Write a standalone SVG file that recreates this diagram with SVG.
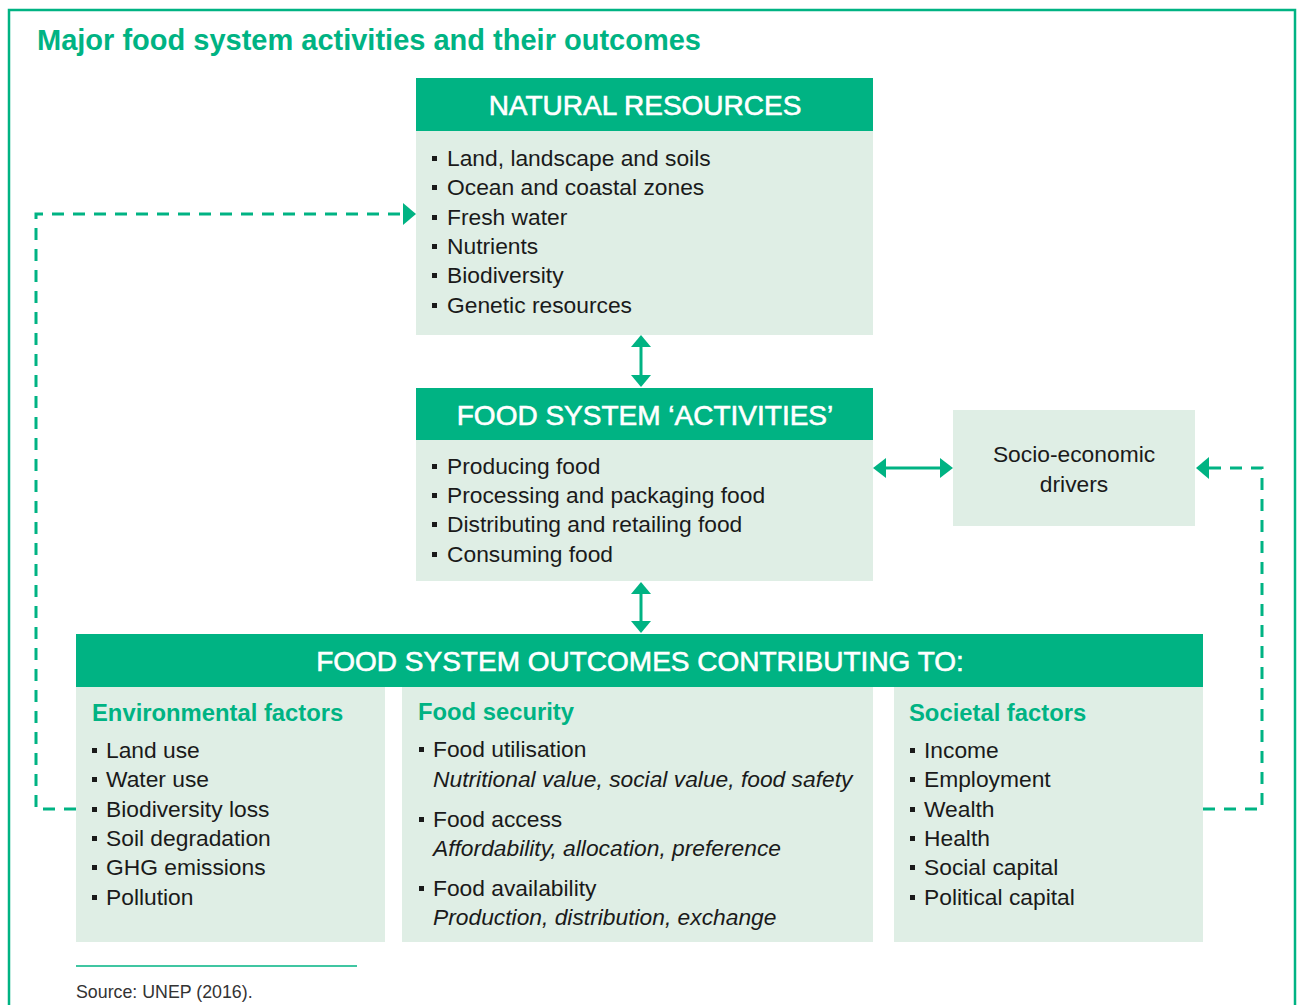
<svg xmlns="http://www.w3.org/2000/svg" width="1297" height="1005" viewBox="0 0 1297 1005">
  <defs>
    <style>
      .frame { fill: none; stroke: #00b383; stroke-width: 2.5; }
      .head { fill: #00b383; }
      .body { fill: #dfeee5; }
      .title { font-family: "Liberation Sans", Arial, sans-serif; font-weight: bold; font-size: 29px; fill: #00b383; }
      .htxt { font-family: "Liberation Sans", Arial, sans-serif; font-size: 28px; fill: #ffffff; stroke: #ffffff; stroke-width: 0.6; text-anchor: middle; }
      .sub { font-family: "Liberation Sans", Arial, sans-serif; font-weight: bold; font-size: 23.8px; fill: #00b383; }
      .item { font-family: "Liberation Sans", Arial, sans-serif; font-size: 22.8px; fill: #1a1a1a; }
      .ital { font-style: italic; }
      .mid { text-anchor: middle; }
      .src { font-family: "Liberation Sans", Arial, sans-serif; font-size: 17.8px; fill: #333333; }
      .conn { fill: none; stroke: #00b383; stroke-width: 3; }
      .dash { stroke-dasharray: 12 9; }
      .tip { fill: #00b383; }
      .bul { fill: #1a1a1a; }
    </style>
    <rect id="b" width="5" height="5" class="bul"/>
  </defs>

  <!-- outer frame -->
  <rect class="frame" x="9" y="10" width="1286" height="1010"/>
  <text class="title" x="37" y="50">Major food system activities and their outcomes</text>

  <!-- natural resources -->
  <g id="natural-resources">
    <rect class="head" x="416" y="78" width="457" height="53"/>
    <rect class="body" x="416" y="131" width="457" height="204"/>
    <text class="htxt" x="645" y="115">NATURAL RESOURCES</text>
    <use href="#b" x="432" y="156"/><text class="item" x="447" y="166">Land, landscape and soils</text>
    <use href="#b" x="432" y="185"/><text class="item" x="447" y="195">Ocean and coastal zones</text>
    <use href="#b" x="432" y="215"/><text class="item" x="447" y="225">Fresh water</text>
    <use href="#b" x="432" y="244"/><text class="item" x="447" y="254">Nutrients</text>
    <use href="#b" x="432" y="273"/><text class="item" x="447" y="283">Biodiversity</text>
    <use href="#b" x="432" y="303"/><text class="item" x="447" y="313">Genetic resources</text>
  </g>

  <!-- food system activities -->
  <g id="activities">
    <rect class="head" x="416" y="388" width="457" height="52"/>
    <rect class="body" x="416" y="440" width="457" height="141"/>
    <text class="htxt" x="645" y="425">FOOD SYSTEM ‘ACTIVITIES’</text>
    <use href="#b" x="432" y="464"/><text class="item" x="447" y="474">Producing food</text>
    <use href="#b" x="432" y="493"/><text class="item" x="447" y="503">Processing and packaging food</text>
    <use href="#b" x="432" y="522"/><text class="item" x="447" y="532">Distributing and retailing food</text>
    <use href="#b" x="432" y="552"/><text class="item" x="447" y="562">Consuming food</text>
  </g>

  <!-- socio-economic drivers -->
  <g id="drivers">
    <rect class="body" x="953" y="410" width="242" height="116"/>
    <text class="item mid" x="1074" y="462">Socio-economic</text>
    <text class="item mid" x="1074" y="492">drivers</text>
  </g>

  <!-- outcomes -->
  <g id="outcomes">
    <rect class="head" x="76" y="634" width="1127" height="53"/>
    <text class="htxt" x="640" y="671">FOOD SYSTEM OUTCOMES CONTRIBUTING TO:</text>
  </g>

  <g id="environmental">
    <rect class="body" x="76" y="687" width="309" height="255"/>
    <text class="sub" x="92" y="721">Environmental factors</text>
    <use href="#b" x="92" y="748"/><text class="item" x="106" y="758">Land use</text>
    <use href="#b" x="92" y="777"/><text class="item" x="106" y="787">Water use</text>
    <use href="#b" x="92" y="807"/><text class="item" x="106" y="817">Biodiversity loss</text>
    <use href="#b" x="92" y="836"/><text class="item" x="106" y="846">Soil degradation</text>
    <use href="#b" x="92" y="865"/><text class="item" x="106" y="875">GHG emissions</text>
    <use href="#b" x="92" y="895"/><text class="item" x="106" y="905">Pollution</text>
  </g>

  <g id="food-security">
    <rect class="body" x="402" y="687" width="471" height="255"/>
    <text class="sub" x="418" y="720">Food security</text>
    <use href="#b" x="419" y="747"/><text class="item" x="433" y="757">Food utilisation</text>
    <text class="item ital" x="433" y="787">Nutritional value, social value, food safety</text>
    <use href="#b" x="419" y="817"/><text class="item" x="433" y="827">Food access</text>
    <text class="item ital" x="433" y="856">Affordability, allocation, preference</text>
    <use href="#b" x="419" y="886"/><text class="item" x="433" y="896">Food availability</text>
    <text class="item ital" x="433" y="925">Production, distribution, exchange</text>
  </g>

  <g id="societal">
    <rect class="body" x="894" y="687" width="309" height="255"/>
    <text class="sub" x="909" y="721">Societal factors</text>
    <use href="#b" x="910" y="748"/><text class="item" x="924" y="758">Income</text>
    <use href="#b" x="910" y="777"/><text class="item" x="924" y="787">Employment</text>
    <use href="#b" x="910" y="807"/><text class="item" x="924" y="817">Wealth</text>
    <use href="#b" x="910" y="836"/><text class="item" x="924" y="846">Health</text>
    <use href="#b" x="910" y="865"/><text class="item" x="924" y="875">Social capital</text>
    <use href="#b" x="910" y="895"/><text class="item" x="924" y="905">Political capital</text>
  </g>

  <!-- connectors -->
  <g id="connectors">
    <!-- resources <-> activities -->
    <line class="conn" x1="641" y1="345" x2="641" y2="377"/>
    <polygon class="tip" points="641,335 651,347 631,347"/>
    <polygon class="tip" points="641,387 651,375 631,375"/>
    <!-- activities <-> outcomes -->
    <line class="conn" x1="641" y1="592" x2="641" y2="622"/>
    <polygon class="tip" points="641,582 651,594 631,594"/>
    <polygon class="tip" points="641,633 651,621 631,621"/>
    <!-- activities <-> drivers -->
    <line class="conn" x1="884" y1="468" x2="942" y2="468"/>
    <polygon class="tip" points="873,468 886,458 886,478"/>
    <polygon class="tip" points="953,468 940,458 940,478"/>
    <!-- environmental factors feedback to resources -->
    <polyline class="conn dash" points="76,809 36,809 36,214 404,214"/>
    <polygon class="tip" points="416,214 403,203 403,225"/>
    <!-- societal factors feedback to drivers -->
    <polyline class="conn dash" points="1203,809 1262,809 1262,468 1208,468"/>
    <polygon class="tip" points="1196,468 1209,457 1209,479"/>
  </g>

  <!-- source note -->
  <line x1="76" y1="966" x2="357" y2="966" stroke="#00b383" stroke-width="1.5"/>
  <text class="src" x="76" y="998">Source: UNEP (2016).</text>
</svg>
